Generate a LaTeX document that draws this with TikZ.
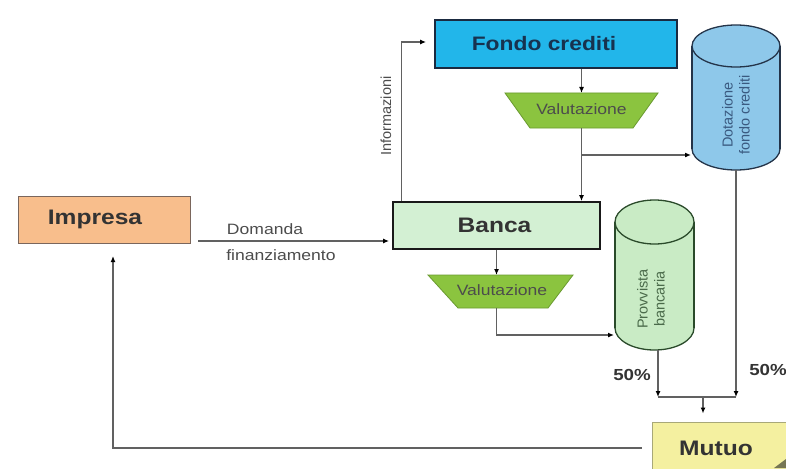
\documentclass[tikz,border=0pt]{standalone}
\usepackage{fontspec}
\setmainfont{Liberation Sans}
\newfontfamily\wide[FakeStretch=1.17]{Liberation Sans}
\usetikzlibrary{shapes.geometric,arrows.meta}
\definecolor{impf}{HTML}{F8BE8C}
\definecolor{impb}{HTML}{7A665C}
\definecolor{banf}{HTML}{D3F0D3}
\definecolor{fonf}{HTML}{22B6EA}
\definecolor{fonb}{HTML}{1A2A40}
\definecolor{fontx}{HTML}{17324F}
\definecolor{valg}{HTML}{8BC43F}
\definecolor{valb}{HTML}{6A9A30}
\definecolor{dotf}{HTML}{8EC8EA}
\definecolor{dotb}{HTML}{243449}
\definecolor{dottx}{HTML}{3A5A80}
\definecolor{prof}{HTML}{C9EBC5}
\definecolor{prob}{HTML}{2A4A2A}
\definecolor{protx}{HTML}{4A6A4A}
\definecolor{mutf}{HTML}{F4F0A0}
\definecolor{mutb}{HTML}{A8A878}
\begin{document}
\begin{tikzpicture}[x=1pt,y=-1pt,
  line/.style={draw=black!62, line width=1.2pt},
  arr/.style={line, -{Latex[length=6pt,width=5pt,color=black]}},
  big/.style={font=\wide\fontsize{21}{24}\selectfont\bfseries, text=black!80},
  small/.style={font=\wide\fontsize{15}{18}\selectfont, text=black!70},
  vert/.style={font=\fontsize{14.5}{17}\selectfont, rotate=90, align=center},
  valut/.style={fill=valg, draw=valb, line width=0.8pt},
  pct/.style={font=\wide\fontsize{16}{18}\selectfont\bfseries, text=black!80},
]
\useasboundingbox (0,0) rectangle (786,468);
\clip (0,0) rectangle (786,468);
\fill[white] (0,0) rectangle (786,468);

% boxes
\node[draw=impb, fill=impf, line width=1pt, minimum width=172pt, minimum height=47pt, big] (imp) at (104,219.5) {Impresa\kern18pt};
\node[draw=black!90, fill=banf, line width=1.8pt, minimum width=207pt, minimum height=47pt, big] (ban) at (496.5,225.5) {Banca\kern4pt};
\node[draw=fonb, fill=fonf, line width=1.8pt, minimum width=242pt, minimum height=48pt, big, font=\wide\fontsize{19.5}{22}\selectfont\bfseries, text=fontx] (fon) at (556,44) {Fondo crediti\kern24pt};
\node[draw=mutb, fill=mutf, line width=1pt, minimum width=140pt, minimum height=52pt, big] (mut) at (722,448) {Mutuo\kern12pt};
\fill[mutb!70!black] (774,468) -- (786,459) -- (786,468) -- cycle;

% trapezia
\draw[valut] (505,93) -- (658,93) -- (633,128) -- (530,128) -- cycle;
\node[small] (v1) at (581.5,109) {Valutazione};
\coordinate (v1t) at (581.5,93);
\coordinate (v1b) at (581.5,128);
\draw[valut] (428,275) -- (573,275) -- (548,308) -- (458,308) -- cycle;
\node[small] (v2) at (502,290) {Valutazione};
\coordinate (v2t) at (496.5,275);
\coordinate (v2b) at (496.5,308);

% cylinder Dotazione
\fill[dotf] (692,46) rectangle (780,149);
\filldraw[fill=dotf, draw=dotb, line width=1.3pt] (736,149) ellipse (44 and 21);
\fill[dotf] (692,46) rectangle (780,149);
\draw[dotb, line width=1.3pt] (692,46) -- (692,149) (780,46) -- (780,149);
\filldraw[fill=dotf, draw=dotb, line width=1.3pt] (736,46) ellipse (44 and 21);
\node[vert, text=dottx] (dot) at (736,115) {Dotazione\\fondo crediti};
\coordinate (dotL) at (692,155);
\coordinate (dotB) at (736,170);

% cylinder Provvista
\fill[prof] (615,222) rectangle (694,328);
\filldraw[fill=prof, draw=prob, line width=1.3pt] (654.5,328) ellipse (39.5 and 22);
\fill[prof] (615,222) rectangle (694,328);
\draw[prob, line width=1.3pt] (615,222) -- (615,328) (694,222) -- (694,328);
\filldraw[fill=prof, draw=prob, line width=1.3pt] (654.5,222) ellipse (39.5 and 22);
\node[vert, text=protx] (pro) at (651,299) {Provvista\\bancaria};
\coordinate (proL) at (615,335);
\coordinate (proB) at (658,350);

% connectors
\coordinate (dstart) at (198,241);
\draw[arr, shorten >=3pt] (dstart) -- (dstart -| ban.west);
\node[small] (dom) at (265,229) {Domanda};
\node[small] (fin) at (281,255) {finanziamento};

\draw[arr, shorten >=8pt] ([xshift=9pt]ban.north west) |- ([yshift=2pt]fon.west);
\node[vert, text=black!70] (inf) at (386,116) {Informazioni};

\draw[arr] (v1t |- fon.south) -- (v1t);
\draw[arr] (v1b) -- (v1b |- ban.north);
\coordinate (br) at (581.5,155);
\draw[arr, shorten >=1pt] (br) -- (dotL);

\draw[arr] (ban.south) -- (v2t);
\draw[arr, shorten >=1pt] (v2b) |- (proL);

\coordinate (jl) at (658,397);
\coordinate (jr) at (736,397);
\coordinate (jm) at (703,397);
\draw[arr] (proB) -- (jl);
\draw[arr] (dotB) -- (jr);
\draw[line] (jl) -- (jr);
\draw[arr, shorten >=8pt] (jm) -- (jm |- mut.north);
\node[pct] (p1) at (632,375) {50\%};
\node[pct] (p2) at (768,370) {50\%};

\coordinate (ret) at (113,243);
\draw[arr, shorten >=13pt] ([xshift=-10pt]mut.west) -| (ret);
\end{tikzpicture}
\end{document}
